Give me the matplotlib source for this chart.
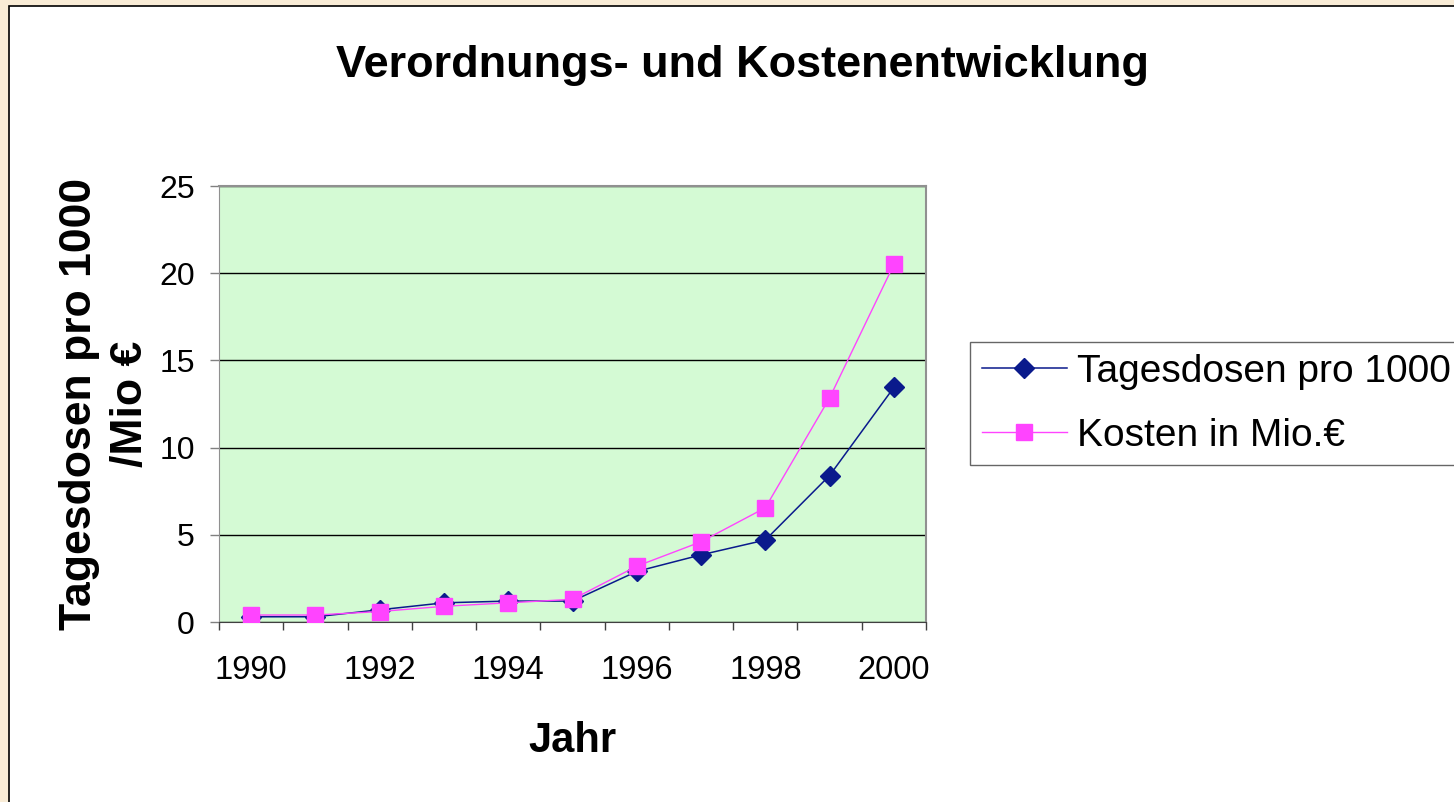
import matplotlib
matplotlib.use("Agg")
import matplotlib.pyplot as plt
from matplotlib.patches import Rectangle

plt.rcParams['font.family'] = ['Liberation Sans', 'DejaVu Sans']

# data
jahre = ['1990', '1991', '1992', '1993', '1994', '1995', '1996', '1997', '1998', '1999', '2000']
tagesdosen = [0.3, 0.3, 0.7, 1.1, 1.2, 1.2, 2.9, 3.85, 4.7, 8.4, 13.45]
kosten = [0.4, 0.4, 0.6, 0.9, 1.1, 1.3, 3.2, 4.6, 6.55, 12.85, 20.5]
yticks = [0, 5, 10, 15, 20, 25]

W, H = 1454, 802
fig = plt.figure(figsize=(W / 100, H / 100), dpi=100)
fig.patch.set_facecolor('#f9ecd6')
# white chart area with black frame
fig.patches.append(Rectangle((9 / W, 1 - 6 / H), 1.2, -1.2, transform=fig.transFigure,
                             facecolor='white', edgecolor='black', lw=1.2, zorder=-5))

ax = fig.add_axes([219 / W, 180 / H, 707 / W, 436 / H])
ax.set_facecolor('#d4fad4')

x = list(range(len(jahre)))
ax.plot(x, tagesdosen, color='#0a1a8c', lw=1.1, marker='D', ms=10.5,
        label='Tagesdosen pro 1000', zorder=3)
ax.plot(x, kosten, color='#ff44ff', lw=1.0, marker='s', ms=12,
        label='Kosten in Mio.€', zorder=4)

ax.set_xlim(-0.5, len(jahre) - 0.5)
ax.set_ylim(0, 25)
ax.set_yticks(yticks)
ax.set_yticklabels([str(v) for v in yticks], fontsize=23)
ax.yaxis.grid(True, color='black', lw=1.0)
ax.set_axisbelow(True)

# tick marks between categories, labels every second year under the points
ax.set_xticks([i - 0.5 for i in range(len(jahre) + 1)])
ax.set_xticklabels([])
ax.set_xticks(x[::2], minor=True)
ax.set_xticklabels(jahre[::2], minor=True, fontsize=23.5)
ax.tick_params(axis='x', which='major', length=6, width=1, color='#404040', direction='out')
ax.tick_params(axis='x', which='minor', length=0, pad=24)
ax.tick_params(axis='y', length=6.5, width=1, color='#808080', pad=11)

for s in ['top', 'right', 'left']:
    ax.spines[s].set_color('#909090')
ax.spines['bottom'].set_color('#404040')
ax.spines['top'].set_linewidth(1.5)
ax.spines['right'].set_linewidth(1.5)

ax.set_xlabel('Jahr', fontsize=30, fontweight='bold', labelpad=25)
ax.set_ylabel('Tagesdosen pro 1000\n/Mio €', fontsize=32, fontweight='bold',
              labelpad=5.5, linespacing=1.32)

fig.text(743 / W, 1 - 66 / H, 'Verordnungs- und Kostenentwicklung', fontsize=32.5,
         fontweight='bold', ha='center', va='center')

leg = fig.legend(loc='upper left', bbox_to_anchor=(970 / W, 1 - 342 / H),
                 borderaxespad=0, fontsize=28, frameon=True, fancybox=False,
                 handlelength=2.2, borderpad=0.3, labelspacing=0.72, handletextpad=0.25)
leg.get_frame().set_edgecolor('#404040')
leg.get_frame().set_linewidth(1.0)

fig.savefig('out.png', dpi=100)
